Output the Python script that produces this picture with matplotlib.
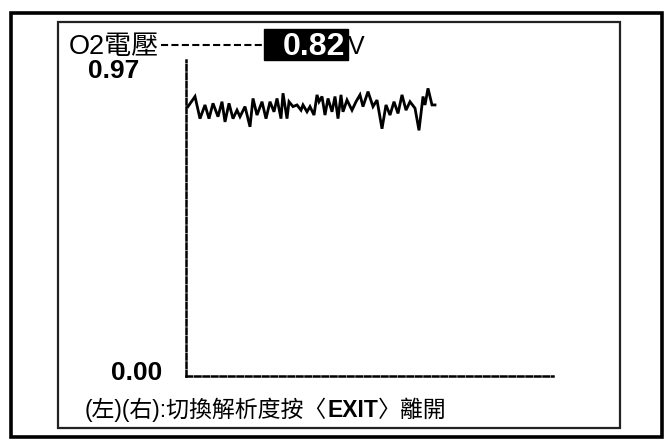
import matplotlib
matplotlib.use("Agg")
import matplotlib.pyplot as plt
from matplotlib.patches import Rectangle
from matplotlib.lines import Line2D

W, H = 672, 441
FAM = ['Liberation Sans', 'Noto Sans CJK TC', 'DejaVu Sans']
NARROW = ['Liberation Sans Narrow', 'Liberation Sans', 'DejaVu Sans']
plt.rcParams['font.family'] = FAM

# ---- data ----
title_label = "O2電壓"
current_value = "0.82"
unit = "V"
y_max_label = "0.97"
y_min_label = "0.00"
footer_parts = ["(左)(右):切換解析度按〈", "EXIT", "〉離開"]
y_limits = [0.0, 0.97]
x_limits = [0, 367]
t = [2, 9, 14, 19, 23, 27, 32, 36, 39, 43, 47, 51, 54, 59, 64, 67, 71, 76, 80, 84,
     88, 91, 95, 97, 101, 103, 107, 111, 115, 117, 121, 124, 128, 131, 133, 136,
     139, 142, 146, 149, 152, 155, 157, 161, 166, 170, 174, 177, 182, 187, 191,
     196, 200, 204, 208, 212, 216, 220, 224, 229, 233, 237, 239, 242, 246, 249]
v = [0.827, 0.858, 0.790, 0.832, 0.790, 0.837, 0.796, 0.842, 0.780, 0.837, 0.790,
     0.816, 0.796, 0.827, 0.765, 0.852, 0.801, 0.842, 0.790, 0.842, 0.811, 0.852,
     0.790, 0.868, 0.790, 0.842, 0.827, 0.832, 0.816, 0.832, 0.811, 0.827, 0.801,
     0.863, 0.842, 0.858, 0.801, 0.852, 0.811, 0.858, 0.790, 0.863, 0.811, 0.847,
     0.816, 0.842, 0.863, 0.827, 0.873, 0.827, 0.847, 0.759, 0.832, 0.801, 0.842,
     0.806, 0.863, 0.816, 0.842, 0.822, 0.754, 0.858, 0.832, 0.883, 0.832, 0.832]

fig = plt.figure(figsize=(W / 100, H / 100), dpi=100)
fig.patch.set_facecolor('white')


def fx(px):
    return px / W


def fy(py):
    return 1 - py / H


# frames
fig.patches.append(Rectangle((fx(11), fy(437)), fx(651), (437 - 13) / H,
                             transform=fig.transFigure, fill=False,
                             edgecolor='black', linewidth=2.6))
fig.patches.append(Rectangle((fx(58), fy(428)), fx(562), (428 - 22) / H,
                             transform=fig.transFigure, fill=False,
                             edgecolor='#222222', linewidth=1.6))

# axes
ax = fig.add_axes([fx(186), fy(376), fx(553 - 186), (376 - 60) / H])
ax.set_xlim(*x_limits)
ax.set_ylim(*y_limits)
ax.set_facecolor('none')
for s in ['top', 'right']:
    ax.spines[s].set_visible(False)
for s in ['left', 'bottom']:
    ax.spines[s].set_linewidth(1.8)
    ax.spines[s].set_linestyle((0, (2.2, 1.2)))
    ax.spines[s].set_color('black')
ax.set_xticks([])
ax.set_yticks([])
ax.plot(t, v, color='black', linewidth=2.0, solid_joinstyle='miter')

# header
fig.text(fx(69), fy(54), title_label, fontsize=19.5, ha='left', va='baseline')
fig.add_artist(Line2D([fx(161), fx(263)], [fy(45), fy(45)],
                      transform=fig.transFigure, color='black',
                      linewidth=1.5, linestyle=(0, (3.4, 1.6))))
fig.patches.append(Rectangle((fx(264), fy(60)), fx(84), 31 / H,
                             transform=fig.transFigure, color='black'))
fig.text(fx(345), fy(55), current_value, fontsize=23, fontweight='bold',
         color='white', ha='right', va='baseline', family=NARROW)
fig.text(fx(348), fy(54), unit, fontsize=18, color='black',
         ha='left', va='baseline')

# y labels
fig.text(fx(139), fy(78), y_max_label, fontsize=19, fontweight='bold',
         ha='right', va='baseline')
fig.text(fx(162), fy(380), y_min_label, fontsize=19, fontweight='bold',
         ha='right', va='baseline')

# footer
renderer = fig.canvas.get_renderer()
x = 85
for part in footer_parts:
    tx = fig.text(fx(x), fy(417), part, fontsize=16.5,
                  fontweight='bold' if part == "EXIT" else 'normal',
                  ha='left', va='baseline')
    bb = tx.get_window_extent(renderer)
    x += bb.width

fig.savefig("out.png", dpi=100)
